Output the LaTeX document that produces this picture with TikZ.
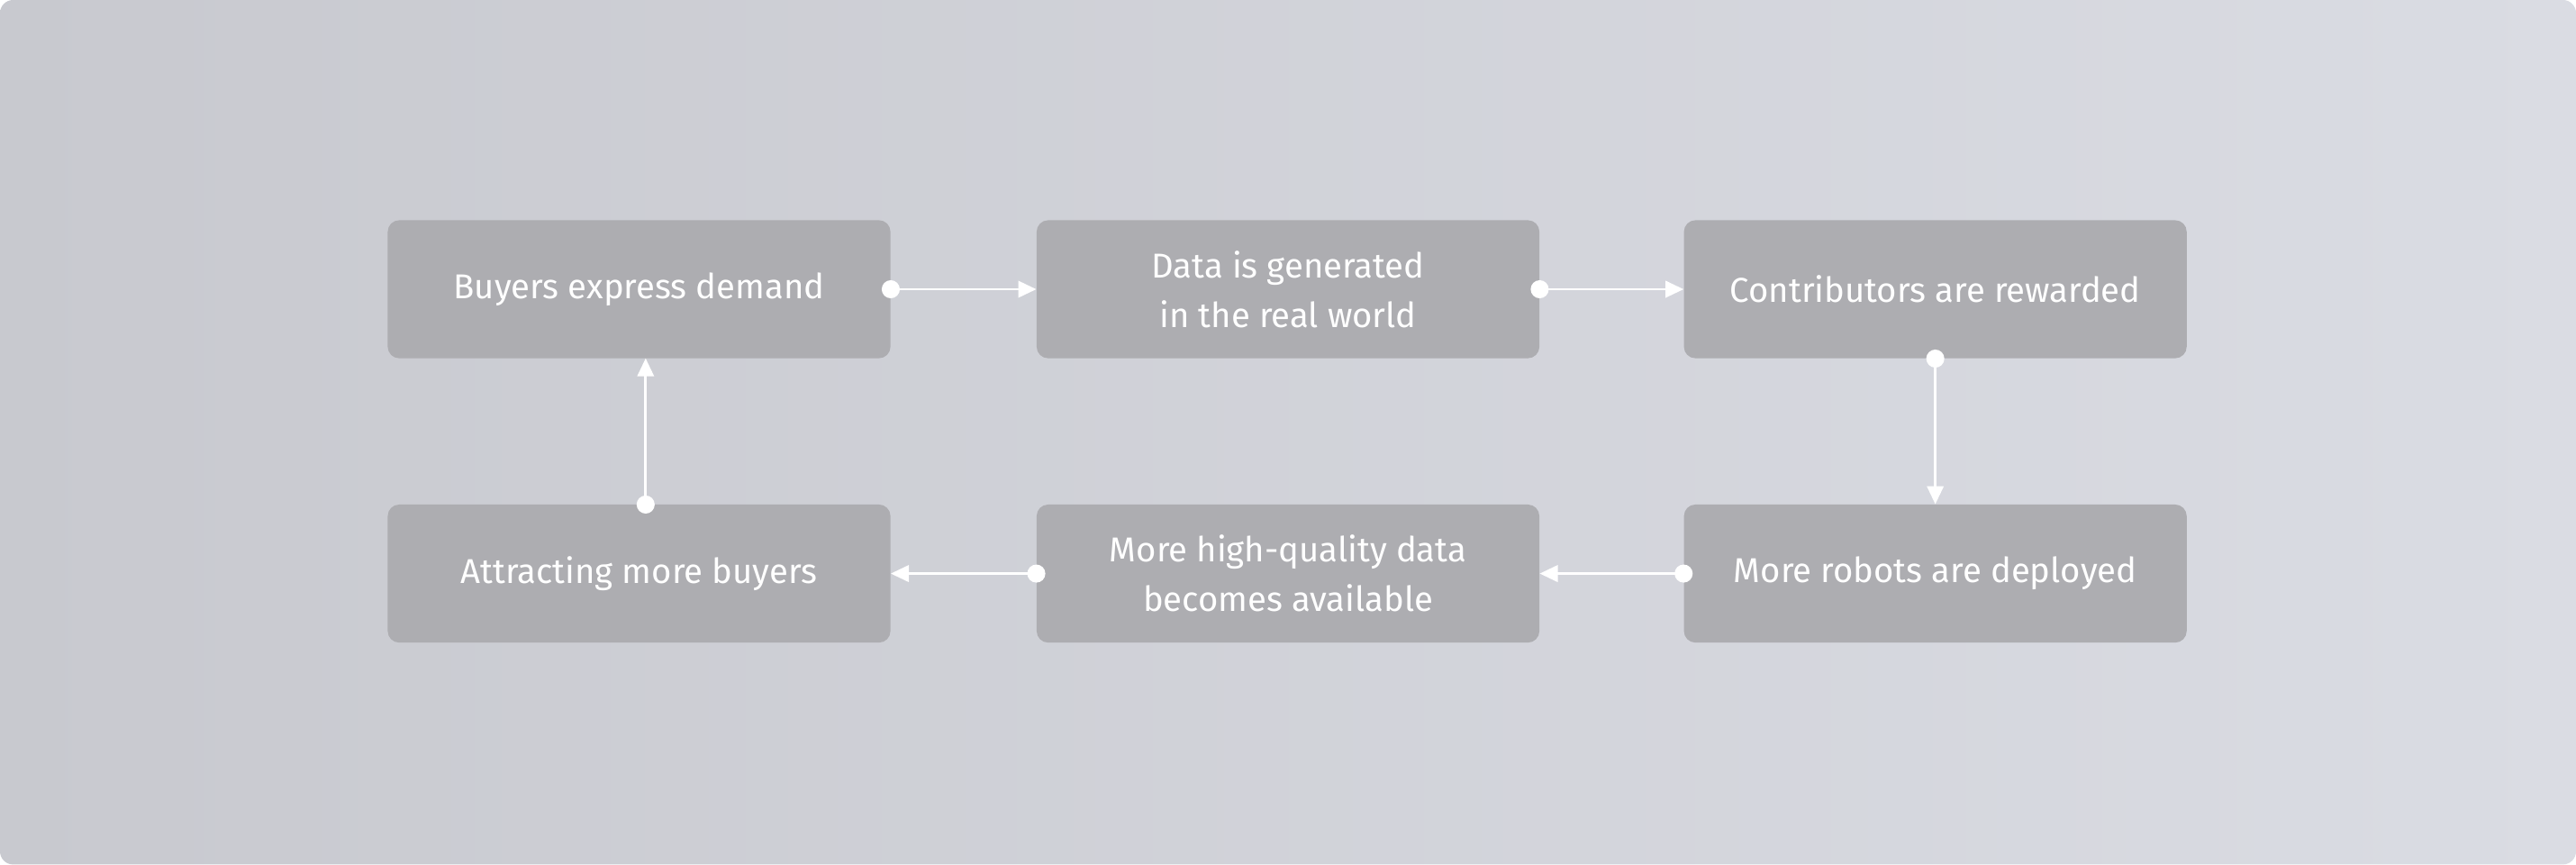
\documentclass[tikz,border=0pt]{standalone}
\usepackage{fontspec}
\setmainfont{Fira Sans}
\usetikzlibrary{arrows.meta}
\definecolor{bgL}{HTML}{C8C9CF}
\definecolor{bgR}{HTML}{DADCE3}
\definecolor{boxc}{HTML}{ADADB1}
\begin{document}
\begin{tikzpicture}[x=1pt,y=-1pt,
  box/.style={fill=boxc,rounded corners=7pt,draw=none,minimum width=306pt,minimum height=84pt,text=white,align=center,font=\fontsize{21}{30}\selectfont},
  conn/.style={draw=white,line width=1.6pt,-{Triangle[length=11pt,width=10pt]}},
  dot/.style={circle,fill=white,inner sep=0pt,minimum size=11pt}]
\useasboundingbox (0,0) rectangle (1568,526);
\shade[left color=bgL,right color=bgR,rounded corners=8pt] (0,0) rectangle (1568,526);
\node[box] (b1) at (389,176) {Buyers express demand};
\node[box] (b2) at (784,176) {Data is generated\\in the real world};
\node[box] (b3) at (1178,176) {Contributors are rewarded};
\node[box] (b4) at (1178,349) {More robots are deployed};
\node[box] (b5) at (784,349) {More high-quality data\\becomes available};
\node[box] (b6) at (389,349) {Attracting more buyers};
\node[dot] (d1) at (b1.east) {};
\draw[conn] (d1.center) -- (b2.west);
\node[dot] (d2) at (b2.east) {};
\draw[conn] (d2.center) -- (b3.west);
\node[dot] (d3) at (b3.south) {};
\draw[conn] (d3.center) -- (b4.north);
\node[dot] (d4) at (b4.west) {};
\draw[conn] (d4.center) -- (b5.east);
\node[dot] (d5) at (b5.west) {};
\draw[conn] (d5.center) -- (b6.east);
\coordinate (t6) at (393,307);
\coordinate (t1) at (393,218);
\node[dot] (d6) at (t6) {};
\draw[conn] (d6.center) -- (t1);
\end{tikzpicture}
\end{document}
